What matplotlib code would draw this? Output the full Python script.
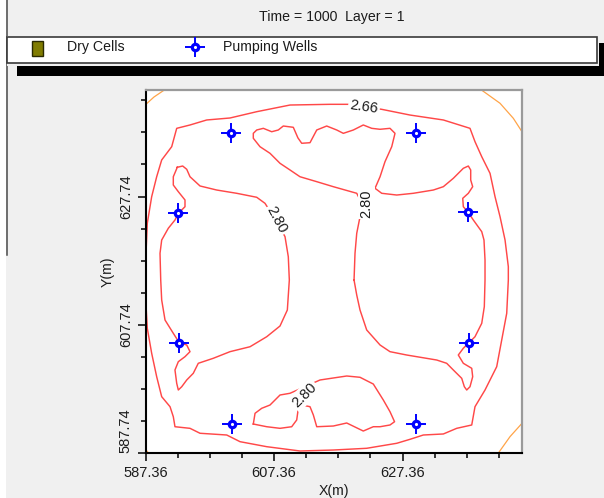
import matplotlib
matplotlib.use("Agg")
import matplotlib.pyplot as plt
from matplotlib.patches import Rectangle
from matplotlib.lines import Line2D
from matplotlib.ticker import FixedLocator, FixedFormatter

plt.rcParams['font.family'] = ['Liberation Sans', 'DejaVu Sans']

# ---------------------------------------------------------------- data
TITLE = "Time = 1000  Layer = 1"
X0, Y0 = 587.36, 587.74          # grid origin (m)
X_LEN, Y_LEN = 58.61, 56.59       # grid extent (m)

X_MAJOR = [0.0, 20.0, 40.0]
X_TICKLABELS = ["587.36", "607.36", "627.36"]
Y_MAJOR = [0.0, 20.0, 40.0]
Y_TICKLABELS = ["587.74", "607.74", "627.74"]
TICK_STEP = 5.0

# pumping wells, local coordinates (m)
WELL_X = [13.29, 42.10, 5.08, 50.16, 5.23, 50.36, 13.49, 42.10]
WELL_Y = [49.84, 49.84, 37.38, 37.63, 17.23, 17.23, 4.56, 4.56]

# head contour 2.66 (outer closed line)
H266_X = [0.0, 0.0, 0.25, 0.93, 1.71, 2.49, 4.05, 4.83, 6.90, 9.50,
          13.13, 17.29, 22.48, 28.71, 31.56, 36.76, 41.17, 46.36, 50.51, 51.29,
          52.34, 53.63, 54.41, 55.19, 55.97, 56.48, 56.48, 56.23, 55.45, 54.67,
          52.85, 51.29, 50.78, 48.44, 46.36, 43.24, 41.17, 39.10, 34.42, 29.22,
          24.03, 18.85, 14.69, 12.62, 8.46, 6.90, 4.56, 4.30, 3.79, 2.49,
          1.71, 0.93, 0.25, 0.0]
H266_Y = [23.88, 30.11, 35.83, 39.97, 43.08, 45.69, 47.76, 50.62, 51.14, 51.92,
          52.23, 53.21, 54.25, 54.36, 54.36, 53.58, 52.69, 51.92, 50.62, 48.54,
          46.20, 43.61, 39.97, 36.85, 33.22, 29.07, 26.99, 21.81, 17.65, 13.49,
          9.86, 7.26, 4.41, 3.89, 3.01, 2.85, 2.18, 1.56, 0.78, 0.51,
          0.36, 1.03, 1.81, 2.85, 3.12, 3.89, 4.14, 5.70, 7.26, 8.82,
          11.93, 15.58, 19.47, 23.88]

# head contour 2.52 (corner pieces)
H252_PIECES = [
    ([0.0, 1.29, 2.90], [54.33, 55.50, 56.59]),
    ([52.30, 55.19, 57.26, 58.61], [56.59, 54.52, 52.18, 50.09]),
    ([54.90, 56.74, 58.61], [0.0, 2.59, 4.67]),
    ([0.0, 0.45], [0.60, 0.0]),
]

# head contour 2.80, right closed line
H280R_X = [32.45, 32.60, 32.87, 33.38, 33.79, 32.87, 29.22, 26.64, 24.03, 22.48,
           20.92, 19.36, 17.80, 16.76, 16.76, 17.29, 18.32, 19.63, 20.65, 21.43,
           22.99, 23.71, 24.30, 25.59, 26.64, 28.19, 29.75, 30.78, 32.34, 33.89,
           35.20, 36.50, 38.05, 38.83, 38.32, 37.27, 36.50, 35.72, 36.76, 39.10,
           41.68, 44.80, 46.36, 47.91, 49.47, 50.25, 50.62, 50.62, 50.93, 50.25,
           49.38, 49.47, 50.16, 51.03, 52.34, 52.69, 52.85, 52.85, 52.74, 52.34,
           51.29, 50.36, 49.47, 48.69, 49.47, 50.78, 50.93, 50.51, 50.00, 49.63,
           49.22, 47.91, 46.88, 45.33, 42.21, 40.65, 38.05, 36.50, 34.42, 33.38,
           32.87, 32.45]
H280R_Y = [26.99, 31.15, 34.27, 36.85, 38.68, 40.50, 41.53, 42.31, 43.08, 44.13,
           45.17, 46.73, 47.76, 49.07, 49.84, 50.36, 50.62, 50.09, 50.36, 50.98,
           50.78, 49.13, 48.29, 48.38, 50.36, 50.98, 50.36, 49.84, 50.36, 51.14,
           50.62, 50.47, 50.62, 49.84, 47.76, 45.42, 43.08, 41.28, 40.50, 40.23,
           40.50, 41.01, 41.53, 42.83, 44.39, 44.75, 44.13, 42.57, 41.53, 40.50,
           39.72, 38.41, 37.63, 36.34, 34.52, 33.22, 30.11, 26.99, 22.84, 20.25,
           18.16, 17.23, 16.36, 15.31, 14.02, 13.24, 11.93, 10.37, 9.86, 10.37,
           11.68, 12.98, 14.02, 14.53, 15.05, 15.31, 15.83, 16.87, 19.21, 22.32,
           24.65, 26.99]

# head contour 2.80, left closed line
H280L_X = [4.92, 5.76, 6.39, 6.90, 8.46, 11.06, 14.17, 17.29, 18.58, 20.45,
           21.70, 22.21, 22.37, 22.06, 20.92, 18.85, 16.25, 13.13, 10.53, 8.19,
           7.41, 6.39, 5.61, 5.08, 4.83, 4.56, 5.08, 6.12, 6.90, 6.39,
           5.23, 4.30, 3.01, 2.49, 2.34, 2.23, 2.49, 3.52, 4.56, 5.08,
           6.12, 6.12, 5.08, 4.30, 4.30, 4.92]
H280L_Y = [44.55, 44.75, 44.24, 43.08, 41.64, 41.01, 40.50, 39.88, 38.94, 36.03,
           33.74, 30.62, 26.99, 22.32, 19.83, 18.16, 16.60, 15.83, 14.80, 14.02,
           12.46, 11.42, 10.37, 9.86, 10.90, 12.98, 14.27, 15.05, 15.83, 16.87,
           17.23, 18.69, 20.76, 23.88, 26.99, 31.15, 33.22, 35.05, 36.34, 37.38,
           38.41, 39.46, 40.75, 41.79, 43.08, 44.55]

# head contour 2.80, bottom closed line
H280B_X = [16.76, 17.03, 18.07, 19.36, 20.92, 22.48, 27.15, 29.22, 31.31, 33.38,
           35.45, 37.01, 38.05, 38.76, 38.05, 36.50, 35.45, 33.89, 31.31, 29.22,
           26.64, 26.11, 25.59, 24.66, 23.77, 23.52, 22.74, 20.92, 18.85, 16.76]
H280B_Y = [4.56, 6.23, 7.01, 7.52, 9.08, 9.35, 11.42, 11.73, 12.04, 11.84,
           10.79, 8.30, 6.48, 4.92, 4.41, 4.14, 4.14, 3.47, 4.72, 4.25,
           4.14, 5.97, 7.26, 7.45, 7.01, 5.19, 4.14, 3.89, 4.14, 4.56]

# contour labels: text, x, y (local m), angle
LABEL_TEXT = ["2.66", "2.80", "2.80", "2.80"]
LABEL_X = [34.00, 34.42, 20.40, 24.74]
LABEL_Y = [53.94, 38.94, 36.34, 9.08]
LABEL_ANGLE = [-8, 90, -62, 45]

LEGEND_ITEMS = ["Dry Cells", "Pumping Wells"]

# ---------------------------------------------------------------- figure
W, H = 604, 498
BG = '#f0f0f0'
RED = '#ff4848'
ORANGE = '#ffa448'
BLUE = '#0000ff'
TXT = '#1c1c1c'


def fx(px):
    return px / W


def fy(py):
    return 1 - py / H


fig = plt.figure(figsize=(W / 100, H / 100), dpi=100, facecolor=BG)

# window frame on the left
fig.patches.append(Rectangle((0, 0), fx(6), 1, transform=fig.transFigure,
                             facecolor='white', edgecolor='none', zorder=0))
fig.lines.append(Line2D([fx(6.8), fx(6.8)], [1, fy(255)], transform=fig.transFigure,
                        color='#4a4a4a', lw=1.1))

# title
fig.text(fx(332), fy(17), TITLE, ha='center', va='center', fontsize=10.2, color=TXT)

# legend box with drop shadow
fig.patches.append(Rectangle((fx(16.7), fy(75.7)), fx(620) - fx(16.7), fy(42.7) - fy(75.7),
                             transform=fig.transFigure, facecolor='black',
                             edgecolor='none', zorder=1))
fig.patches.append(Rectangle((fx(6.5), fy(66)), fx(599.3) - fx(6.5), fy(36.5) - fy(66),
                             transform=fig.transFigure, facecolor=BG,
                             edgecolor='none', zorder=2))
fig.patches.append(Rectangle((fx(7.5), fy(63.2)), fx(596.7) - fx(7.5), fy(37.5) - fy(63.2),
                             transform=fig.transFigure, facecolor='white',
                             edgecolor='#3a3a3a', lw=1.2, zorder=3))
fig.patches.append(Rectangle((fx(31.5), fy(55.5)), fx(43.5) - fx(31.5), fy(41) - fy(55.5),
                             transform=fig.transFigure, facecolor='#807c00',
                             edgecolor='#2a2a00', lw=1.0, zorder=4))
fig.text(fx(67), fy(47.5), LEGEND_ITEMS[0], ha='left', va='center',
         fontsize=10.2, color=TXT, zorder=4)
fig.lines.append(Line2D([fx(195)], [fy(47.5)], transform=fig.transFigure,
                        ls='none', marker='+', ms=14, mew=1.4, color=BLUE, zorder=4))
fig.lines.append(Line2D([fx(195)], [fy(47.5)], transform=fig.transFigure,
                        ls='none', marker='o', ms=4.6, mew=2.3, mec=BLUE, mfc='white',
                        zorder=5))
fig.text(fx(223), fy(47.5), LEGEND_ITEMS[1], ha='left', va='center',
         fontsize=10.2, color=TXT, zorder=4)

# ---------------------------------------------------------------- map axes
ax = fig.add_axes([fx(145.7), fy(453.3), (522 - 145.7) / W, (453.3 - 90) / H])
ax.set_facecolor('white')
ax.set_xlim(X0, X0 + X_LEN)
ax.set_ylim(Y0, Y0 + Y_LEN)


def gx(vals):
    return [X0 + v for v in vals]


def gy(vals):
    return [Y0 + v for v in vals]


ax.plot(gx(H266_X), gy(H266_Y), color=RED, lw=1.05, zorder=2)
for px_, py_ in H252_PIECES:
    ax.plot(gx(px_), gy(py_), color=ORANGE, lw=0.9, zorder=2)
ax.plot(gx(H280R_X), gy(H280R_Y), color=RED, lw=1.05, zorder=2)
ax.plot(gx(H280L_X), gy(H280L_Y), color=RED, lw=1.05, zorder=2)
ax.plot(gx(H280B_X), gy(H280B_Y), color=RED, lw=1.05, zorder=2)

for s, lx, ly, ang in zip(LABEL_TEXT, LABEL_X, LABEL_Y, LABEL_ANGLE):
    ax.text(X0 + lx, Y0 + ly, s, rotation=ang, rotation_mode='anchor',
            ha='center', va='center', fontsize=10.5, color=TXT, zorder=3,
            bbox=dict(boxstyle='square,pad=0.12', fc='white', ec='none'))

ax.plot(gx(WELL_X), gy(WELL_Y), ls='none', marker='+', ms=14, mew=1.4,
        color=BLUE, zorder=5)
ax.plot(gx(WELL_X), gy(WELL_Y), ls='none', marker='o', ms=4.6, mew=2.3,
        mec=BLUE, mfc='white', zorder=6)

# spines
for side in ('left', 'bottom'):
    ax.spines[side].set_color('black')
    ax.spines[side].set_linewidth(1.5)
for side in ('top', 'right'):
    ax.spines[side].set_color('#9a9a9a')
    ax.spines[side].set_linewidth(1.6)

# ticks
n_x = int(X_LEN // TICK_STEP) + 1
n_y = int(Y_LEN // TICK_STEP) + 1
ax.xaxis.set_major_locator(FixedLocator(gx(X_MAJOR)))
ax.xaxis.set_major_formatter(FixedFormatter(X_TICKLABELS))
ax.xaxis.set_minor_locator(FixedLocator(gx([i * TICK_STEP for i in range(n_x)])))
ax.yaxis.set_major_locator(FixedLocator(gy(Y_MAJOR)))
ax.yaxis.set_major_formatter(FixedFormatter(Y_TICKLABELS))
ax.yaxis.set_minor_locator(FixedLocator(gy([i * TICK_STEP for i in range(n_y)])))
ax.tick_params(which='major', direction='out', length=5.8, width=1.1,
               color='black', labelsize=10.5, labelcolor=TXT, pad=3.5)
ax.tick_params(which='minor', direction='out', length=3.8, width=1.1, color='black')
for lab in ax.get_yticklabels():
    lab.set_rotation(90)
    lab.set_va('center')
ax.get_yticklabels()[0].set_va('bottom')

ax.set_xlabel("X(m)", fontsize=10.2, color=TXT)
ax.set_ylabel("Y(m)", fontsize=10.2, color=TXT)
ax.xaxis.set_label_coords(0.5, -0.085)
ax.yaxis.set_label_coords(-0.082, 0.5)

fig.savefig("out.png", dpi=100, facecolor=BG)
